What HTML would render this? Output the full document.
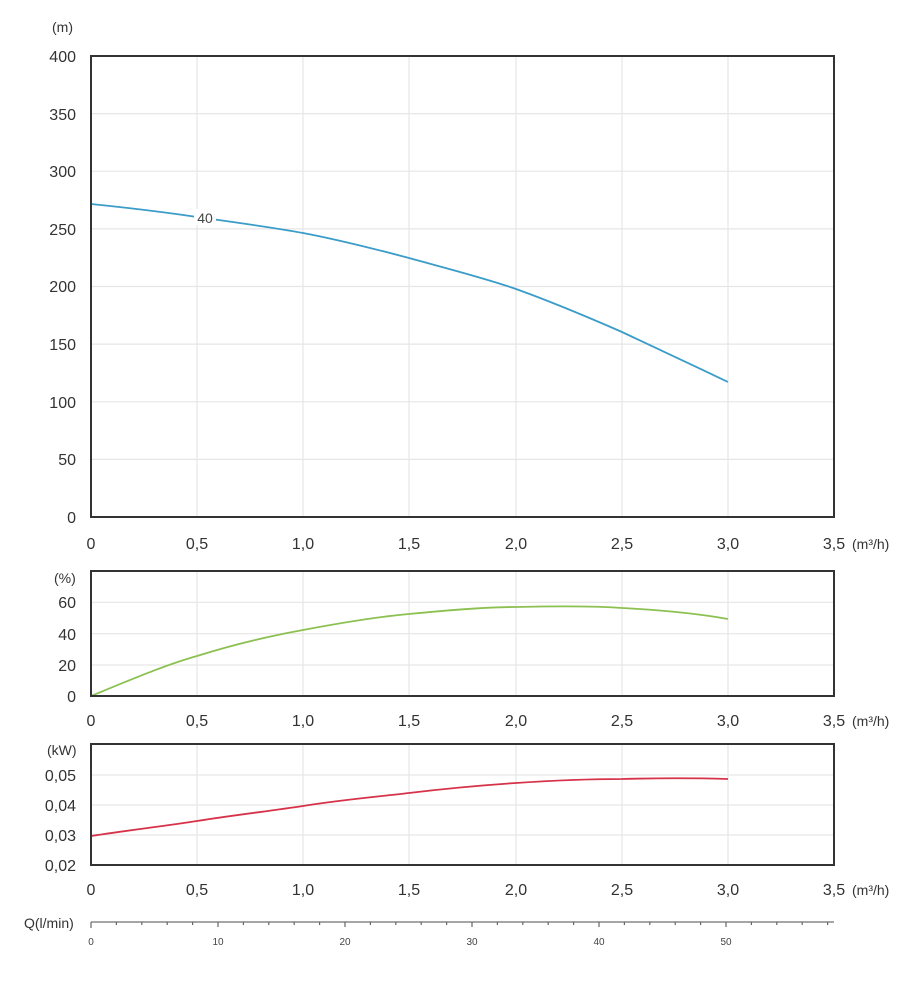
<!DOCTYPE html>
<html><head><meta charset="utf-8"><style>
body{margin:0;background:#fff}
svg{display:block;font-family:"Liberation Sans",Arial,sans-serif}
</style></head><body>
<svg width="919" height="983" viewBox="0 0 919 983" xmlns="http://www.w3.org/2000/svg">
<g stroke="#e6e6e6" stroke-width="1.2" fill="none">
<!-- main grid -->
<path d="M197,56V517M303,56V517M409,56V517M516,56V517M622,56V517M728,56V517"/>
<path d="M91,113.6H834M91,171.2H834M91,228.9H834M91,286.5H834M91,344.1H834M91,401.8H834M91,459.4H834"/>
<!-- eff grid -->
<path d="M197,571V696M303,571V696M409,571V696M516,571V696M622,571V696M728,571V696"/>
<path d="M91,602.3H834M91,633.7H834M91,665H834"/>
<!-- power grid -->
<path d="M197,744V865M303,744V865M409,744V865M516,744V865M622,744V865M728,744V865"/>
<path d="M91,775H834M91,805H834M91,835H834"/>
</g>
<!-- curves -->
<path d="M91,204 C140,209 170,213 197,217 C240,223 270,227 303,233 C340,240 375,249 409,258 C445,268 485,278 516,289 C555,303 590,318 622,332 C660,350 695,366 728,382" fill="none" stroke="#3a9cc8" stroke-width="1.8"/>
<rect x="194" y="209" width="22" height="16" fill="#fff"/>
<text x="205" y="223" font-size="14" fill="#444" text-anchor="middle">40</text>
<path d="M91,696 C130,680 165,665 197,656 C235,644 270,636 303,630 C340,623 375,617 409,614 C450,610 485,607 516,607 C560,606 595,606 622,608 C660,610 695,613 728,619" fill="none" stroke="#8cc152" stroke-width="1.8"/>
<path d="M91,836 C130,830 165,826 197,821 C235,815 270,811 303,806 C340,800 375,797 409,793 C450,788 485,785 516,783 C560,780 595,779 622,779 C660,778 695,778 728,779" fill="none" stroke="#d6334a" stroke-width="1.8"/>
<!-- frames -->
<g fill="none" stroke="#333" stroke-width="2">
<rect x="91" y="56" width="743" height="461"/>
<rect x="91" y="571" width="743" height="125"/>
<rect x="91" y="744" width="743" height="121"/>
</g>
<g fill="#333" font-size="16" text-anchor="end">
<text x="76" y="62">400</text><text x="76" y="120">350</text><text x="76" y="177">300</text><text x="76" y="235">250</text><text x="76" y="292">200</text><text x="76" y="350">150</text><text x="76" y="408">100</text><text x="76" y="465">50</text><text x="76" y="523">0</text>
<text x="76" y="608">60</text><text x="76" y="640">40</text><text x="76" y="671">20</text><text x="76" y="702">0</text>
<text x="76" y="781">0,05</text><text x="76" y="811">0,04</text><text x="76" y="841">0,03</text><text x="76" y="871">0,02</text>
</g>
<g fill="#333" font-size="14">
<text x="52" y="32">(m)</text><text x="54" y="583">(%)</text><text x="47" y="755">(kW)</text>
</g>
<g fill="#333" font-size="16" text-anchor="middle">
<text x="91" y="549">0</text><text x="197" y="549">0,5</text><text x="303" y="549">1,0</text><text x="409" y="549">1,5</text><text x="516" y="549">2,0</text><text x="622" y="549">2,5</text><text x="728" y="549">3,0</text><text x="834" y="549">3,5</text>
<text x="91" y="726">0</text><text x="197" y="726">0,5</text><text x="303" y="726">1,0</text><text x="409" y="726">1,5</text><text x="516" y="726">2,0</text><text x="622" y="726">2,5</text><text x="728" y="726">3,0</text><text x="834" y="726">3,5</text>
<text x="91" y="895">0</text><text x="197" y="895">0,5</text><text x="303" y="895">1,0</text><text x="409" y="895">1,5</text><text x="516" y="895">2,0</text><text x="622" y="895">2,5</text><text x="728" y="895">3,0</text><text x="834" y="895">3,5</text>
</g>
<g fill="#333" font-size="14">
<text x="852" y="549">(m³/h)</text><text x="852" y="726">(m³/h)</text><text x="852" y="895">(m³/h)</text>
<text x="24" y="928">Q(l/min)</text>
</g>
<!-- Q axis -->
<line x1="91" y1="922" x2="834" y2="922" stroke="#888" stroke-width="1.5"/>
<g stroke="#666" stroke-width="1.2">
<path d="M91,922v6M116.4,922v3M141.8,922v3M167.2,922v3M192.6,922v3M218,922v5M243.4,922v3M268.8,922v3M294.2,922v3M319.6,922v3M345,922v5M370.4,922v3M395.8,922v3M421.2,922v3M446.6,922v3M472,922v5M497.4,922v3M522.8,922v3M548.2,922v3M573.6,922v3M599,922v5M624.4,922v3M649.8,922v3M675.2,922v3M700.6,922v3M726,922v5M751.4,922v3M776.8,922v3M802.2,922v3M827.6,922v3"/>
</g>
<g fill="#444" font-size="10" text-anchor="middle">
<text x="91" y="945">0</text><text x="218" y="945">10</text><text x="345" y="945">20</text><text x="472" y="945">30</text><text x="599" y="945">40</text><text x="726" y="945">50</text>
</g>
</svg>
</body></html>
